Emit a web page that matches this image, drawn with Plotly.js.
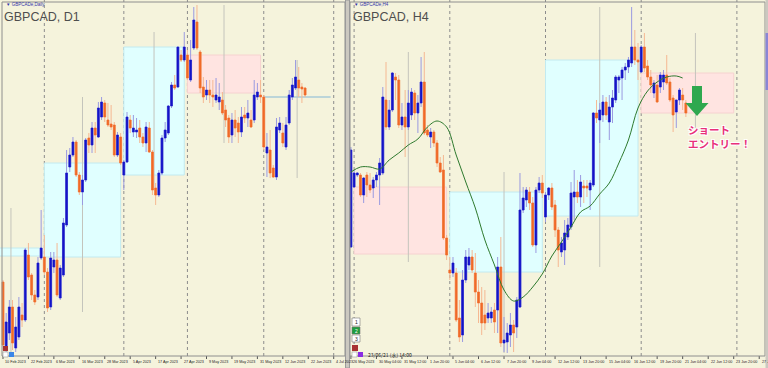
<!DOCTYPE html>
<html><head><meta charset="utf-8">
<script src="https://cdn.plot.ly/plotly-3.0.1.min.js"></script>
<style>html,body{margin:0;padding:0;background:#F5F3DC;}#chart{width:768px;height:368px;}</style>
</head><body><div id="chart"></div>
<script>
// ---------- GBPCAD D1 (left panel) ----------
const d1Open=[1.6436,1.6306,1.6334,1.6386,1.6304,1.6326,1.6370,1.6360,1.6490,1.6450,
1.6410,1.6406,1.6484,1.6486,1.6456,1.6386,1.6466,1.6480,1.6404,1.6450,
1.6550,1.6666,1.6690,1.6716,1.6650,1.6616,1.6640,1.6724,1.6710,1.6744,
1.6726,1.6766,1.6794,1.6760,1.6752,1.6750,1.6690,1.6726,1.6650,1.6676,
1.6760,1.6736,1.6736,1.6744,1.6726,1.6714,1.6744,1.6696,1.6624,1.6610,
1.6654,1.6724,1.6734,1.6788,1.6830,1.6826,1.6890,1.6880,1.6890,1.6840,
1.6904,1.6956,1.6896,1.6826,1.6810,1.6820,1.6810,1.6800,1.6796,1.6800,
1.6780,1.6764,1.6730,1.6760,1.6754,1.6736,1.6770,1.6764,1.6760,1.6760,
1.6806,1.6810,1.6806,1.6694,1.6700,1.6664,1.6646,1.6740,1.6734,1.6706,
1.6754,1.6806,1.6824,1.6840,1.6826,1.6824];
const d1High=[1.6440,1.6374,1.6400,1.6400,1.6366,1.6406,1.6394,1.6504,1.6514,1.6454,
1.6420,1.6486,1.6580,1.6530,1.6464,1.6496,1.6496,1.6514,1.6470,1.6564,
1.6700,1.6704,1.6726,1.6720,1.6656,1.6650,1.6724,1.6734,1.6756,1.6756,
1.6796,1.6806,1.6800,1.6794,1.6790,1.6756,1.6736,1.6734,1.6680,1.6776,
1.6770,1.6770,1.6764,1.6760,1.6734,1.6756,1.6756,1.6700,1.6634,1.6660,
1.6730,1.6756,1.6790,1.6836,1.6850,1.6906,1.6900,1.6936,1.6900,1.6920,
1.6986,1.6990,1.6900,1.6846,1.6840,1.6840,1.6840,1.6844,1.6834,1.6816,
1.6790,1.6770,1.6774,1.6780,1.6766,1.6786,1.6786,1.6800,1.6780,1.6840,
1.6834,1.6840,1.6810,1.6734,1.6740,1.6670,1.6764,1.6766,1.6754,1.6766,
1.6820,1.6844,1.6880,1.6866,1.6834,1.6826];
const d1Low=[1.6300,1.6296,1.6320,1.6300,1.6296,1.6320,1.6346,1.6356,1.6440,1.6400,
1.6390,1.6400,1.6480,1.6450,1.6376,1.6380,1.6454,1.6406,1.6400,1.6446,
1.6546,1.6656,1.6686,1.6646,1.6610,1.6590,1.6636,1.6694,1.6694,1.6694,
1.6724,1.6760,1.6756,1.6746,1.6740,1.6686,1.6686,1.6670,1.6620,1.6674,
1.6734,1.6726,1.6724,1.6714,1.6706,1.6696,1.6694,1.6610,1.6590,1.6606,
1.6650,1.6716,1.6730,1.6784,1.6820,1.6824,1.6876,1.6876,1.6840,1.6836,
1.6900,1.6900,1.6814,1.6794,1.6800,1.6794,1.6786,1.6794,1.6780,1.6770,
1.6746,1.6714,1.6714,1.6726,1.6714,1.6726,1.6754,1.6746,1.6744,1.6754,
1.6800,1.6794,1.6700,1.6646,1.6644,1.6644,1.6640,1.6734,1.6706,1.6700,
1.6750,1.6800,1.6820,1.6806,1.6794,1.6806];
const d1Close=[1.6310,1.6356,1.6386,1.6314,1.6346,1.6386,1.6360,1.6500,1.6446,1.6410,
1.6396,1.6474,1.6504,1.6456,1.6384,1.6484,1.6480,1.6410,1.6464,1.6554,
1.6654,1.6690,1.6716,1.6650,1.6616,1.6640,1.6720,1.6710,1.6744,1.6730,
1.6784,1.6796,1.6766,1.6750,1.6746,1.6690,1.6730,1.6674,1.6676,1.6766,
1.6744,1.6744,1.6740,1.6726,1.6714,1.6746,1.6696,1.6620,1.6610,1.6654,
1.6724,1.6740,1.6788,1.6830,1.6824,1.6906,1.6880,1.6906,1.6844,1.6880,
1.6960,1.6904,1.6824,1.6806,1.6820,1.6810,1.6806,1.6810,1.6806,1.6774,
1.6760,1.6726,1.6760,1.6744,1.6736,1.6766,1.6764,1.6774,1.6746,1.6810,
1.6816,1.6806,1.6706,1.6706,1.6654,1.6646,1.6746,1.6754,1.6714,1.6750,
1.6810,1.6830,1.6846,1.6824,1.6822,1.6810];
// monthly candle overlay (bar indices of first/last day, OHLC)
const monStart=[-7,13,38,58,82];
const monEnd=[12,37,57,81,103];
const monOpen=[1.6488,1.6486,1.6650,1.6890,1.6806];
const monHigh=[1.6584,1.6806,1.6936,1.6990,1.6880];
const monLow=[1.6288,1.6376,1.6620,1.6714,1.6644];
const monClose=[1.6504,1.6674,1.6906,1.6814,1.6806];
const d1Grid=[13,38,58,82,104];
const d1TickIdx=[0,8,16,24,32,40,48,56,64,72,80,88,96,104];
const d1TickText=["10 Feb 2023","22 Feb 2023","6 Mar 2023","16 Mar 2023","28 Mar 2023","5 Apr 2023","17 Apr 2023","27 Apr 2023","9 May 2023","19 May 2023","31 May 2023","12 Jun 2023","22 Jun 2023","4 Jul 2023"];

// ---------- GBPCAD H4 (right panel), first bar = 26 May 20:00 ----------
const h4Open=[1.6703,1.6763,1.6775,1.6775,1.6755,1.6775,1.6765,1.6762,1.6770,1.6775,
1.6777,1.6850,1.6823,1.6840,1.6873,1.6870,1.6825,1.6833,1.6823,1.6835,
1.6857,1.6837,1.6847,1.6868,1.6820,1.6813,1.6818,1.6807,1.6787,1.6780,
1.6712,1.6680,1.6677,1.6677,1.6632,1.6615,1.6670,1.6685,1.6693,1.6677,
1.6658,1.6647,1.6635,1.6632,1.6632,1.6640,1.6640,1.6683,1.6607,1.6608,
1.6615,1.6625,1.6623,1.6643,1.6740,1.6750,1.6758,1.6747,1.6705,1.6760,
1.6767,1.6733,1.6755,1.6762,1.6745,1.6720,1.6698,1.6700,1.6713,1.6723,
1.6753,1.6758,1.6753,1.6764,1.6764,1.6760,1.6765,1.6837,1.6830,1.6835,
1.6848,1.6828,1.6843,1.6850,1.6870,1.6872,1.6880,1.6883,1.6887,1.6903,
1.6890,1.6878,1.6903,1.6884,1.6873,1.6857,1.6865,1.6863,1.6868,1.6875,
1.6868,1.6852,1.6838,1.6850,1.6855,1.6847];
const h4High=[1.6803,1.6780,1.6778,1.6777,1.6773,1.6778,1.6777,1.6773,1.6778,1.6792,
1.6863,1.6888,1.6850,1.6878,1.6877,1.6875,1.6847,1.6860,1.6860,1.6862,
1.6860,1.6855,1.6893,1.6898,1.6825,1.6822,1.6820,1.6810,1.6793,1.6795,
1.6715,1.6693,1.6693,1.6682,1.6650,1.6680,1.6700,1.6702,1.6700,1.6697,
1.6670,1.6663,1.6660,1.6647,1.6643,1.6647,1.6693,1.6713,1.6633,1.6627,
1.6637,1.6630,1.6653,1.6777,1.6763,1.6763,1.6763,1.6753,1.6763,1.6773,
1.6775,1.6758,1.6763,1.6767,1.6750,1.6723,1.6713,1.6730,1.6732,1.6768,
1.6780,1.6770,1.6775,1.6770,1.6770,1.6770,1.6838,1.6850,1.6847,1.6855,
1.6853,1.6855,1.6860,1.6875,1.6875,1.6883,1.6887,1.6893,1.6943,1.6920,
1.6907,1.6905,1.6917,1.6890,1.6880,1.6870,1.6875,1.6878,1.6880,1.6895,
1.6872,1.6855,1.6850,1.6862,1.6862,1.6850];
const h4Low=[1.6702,1.6762,1.6773,1.6753,1.6747,1.6753,1.6757,1.6752,1.6763,1.6745,
1.6775,1.6820,1.6820,1.6838,1.6850,1.6822,1.6820,1.6793,1.6820,1.6830,
1.6830,1.6817,1.6843,1.6815,1.6813,1.6802,1.6803,1.6783,1.6777,1.6710,
1.6690,1.6670,1.6673,1.6628,1.6608,1.6608,1.6667,1.6680,1.6677,1.6643,
1.6627,1.6615,1.6620,1.6627,1.6627,1.6617,1.6617,1.6603,1.6598,1.6597,
1.6603,1.6598,1.6612,1.6642,1.6737,1.6743,1.6740,1.6703,1.6697,1.6757,
1.6752,1.6728,1.6750,1.6740,1.6713,1.6683,1.6693,1.6685,1.6710,1.6720,
1.6730,1.6747,1.6743,1.6747,1.6753,1.6740,1.6763,1.6827,1.6807,1.6828,
1.6830,1.6810,1.6827,1.6847,1.6857,1.6850,1.6870,1.6877,1.6883,1.6885,
1.6870,1.6877,1.6878,1.6870,1.6857,1.6852,1.6847,1.6857,1.6860,1.6865,
1.6848,1.6818,1.6822,1.6845,1.6840,1.6833];
const h4Close=[1.6800,1.6777,1.6777,1.6755,1.6772,1.6765,1.6760,1.6770,1.6775,1.6787,
1.6853,1.6823,1.6840,1.6877,1.6870,1.6825,1.6833,1.6823,1.6847,1.6858,
1.6837,1.6847,1.6868,1.6817,1.6815,1.6818,1.6807,1.6787,1.6778,1.6712,
1.6695,1.6677,1.6687,1.6630,1.6613,1.6670,1.6693,1.6693,1.6680,1.6658,
1.6647,1.6627,1.6627,1.6637,1.6638,1.6628,1.6683,1.6607,1.6610,1.6617,
1.6625,1.6617,1.6650,1.6740,1.6752,1.6760,1.6747,1.6705,1.6760,1.6767,
1.6757,1.6755,1.6762,1.6743,1.6720,1.6700,1.6707,1.6717,1.6725,1.6757,
1.6758,1.6753,1.6768,1.6762,1.6762,1.6767,1.6837,1.6832,1.6840,1.6848,
1.6835,1.6843,1.6852,1.6873,1.6873,1.6880,1.6883,1.6890,1.6903,1.6890,
1.6888,1.6903,1.6882,1.6873,1.6865,1.6867,1.6848,1.6875,1.6875,1.6867,
1.6850,1.6835,1.6850,1.6860,1.6850,1.6837];
// moving average (sampled bar index, value)
const maIdx=[-1,2,5,8,11,14,17,20,23,26,29,32,35,38,41,44,47,50,53,56,59,62,65,68,71,74,77,80,83,86,89,92,95,98,101,103];
const maVal=[1.6778,1.6783,1.6783,1.6781,1.6790,1.6797,1.6805,1.6811,1.6823,1.6829,1.6823,1.6795,1.6768,1.6742,1.6710,1.6685,1.6660,1.6649,1.6653,1.6663,1.6676,1.6694,1.6708,1.6723,1.6738,1.6744,1.6756,1.6767,1.6787,1.6810,1.6842,1.6859,1.6868,1.6873,1.6874,1.6872];
// weekly candle overlay
const wkStart=[0,30,60,90];
const wkEnd=[29,59,89,119];
const wkWickAt=[17,47,77,107];
const wkOpen=[1.6763,1.6678,1.6734,1.6877];
const wkHigh=[1.6898,1.6778,1.6943,1.6917];
const wkLow=[1.6688,1.6597,1.6683,1.6818];
const wkClose=[1.6696,1.6758,1.6890,1.6837];
const h4Grid=[0,30,60,90,120];
const h4TickIdx=[-1,7,15,23,31,39,47,55,63,71,79,87,95,103,111,119,127];
const h4TickText=["26 May 2023","30 May 04:00","31 May 12:00","1 Jun 20:00","5 Jun 04:00","6 Jun 12:00","7 Jun 20:00","9 Jun 04:00","12 Jun 12:00","13 Jun 20:00","15 Jun 04:00","16 Jun 12:00","19 Jun 20:00","21 Jun 04:00","22 Jun 12:00","23 Jun 20:00","27 Jun"];

// ---------- helpers ----------
const W=768, PH=356;
const px=x=>x/W, py=y=>1-y/PH;
const BULL='#1414C8', BEAR='#F06A28', BULLW='#9A9AE0', BEARW='#F5B892', BG='#F5F3DC';

function candles(idx,o,h,l,c,xa,ya){
  const bh=o.map((v,k)=>Math.max(v,c[k])), bl=o.map((v,k)=>Math.min(v,c[k]));
  const common={type:'candlestick',x:idx,xaxis:xa,yaxis:ya,whiskerwidth:0,hoverinfo:'skip',showlegend:false};
  return [
    Object.assign({},common,{open:o,high:h,low:l,close:c,
      increasing:{line:{color:BULLW,width:1},fillcolor:BULLW},
      decreasing:{line:{color:BEARW,width:1},fillcolor:BEARW}}),
    Object.assign({},common,{open:o,high:bh,low:bl,close:c,
      increasing:{line:{color:BULL,width:0.5},fillcolor:BULL},
      decreasing:{line:{color:BEAR,width:0.5},fillcolor:BEAR}})
  ];
}
const d1Idx=d1Open.map((_,k)=>k);
const h4Idx=h4Open.map((_,k)=>k-1);

const traces=[].concat(
  candles(d1Idx,d1Open,d1High,d1Low,d1Close,'x','y'),
  candles(h4Idx,h4Open,h4High,h4Low,h4Close,'x2','y2'),
  [{type:'scatter',mode:'lines',x:maIdx,y:maVal,xaxis:'x2',yaxis:'y2',
    line:{color:'#2E7A2E',width:1,shape:'spline',smoothing:1},hoverinfo:'skip',showlegend:false}]
);

const shapes=[];
function periodShapes(st,en,o,h,l,c,mid,xr,yr){
  for(let k=0;k<st.length;k++){
    const up=c[k]>o[k], dn=c[k]<o[k];
    shapes.push({type:'rect',xref:xr,yref:yr,layer:'below',x0:st[k],x1:en[k],y0:o[k],y1:c[k],
      fillcolor: up?'#E0FFFF':(dn?'#FFE4E1':'rgba(0,0,0,0)'),
      line:{color: up?'#C2EAF0':(dn?'#F6D2D0':'#A9CBD8'),width:1}});
  }
  for(let k=0;k<st.length;k++){
    shapes.push({type:'line',xref:xr,yref:yr,layer:'below',x0:mid[k],x1:mid[k],y0:l[k],y1:h[k],
      line:{color:'#C4C4BC',width:1}});
  }
}
periodShapes(monStart,monEnd,monOpen,monHigh,monLow,monClose,monStart.map((s,k)=>(s+monEnd[k])/2),'x','y');
periodShapes(wkStart,wkEnd,wkOpen,wkHigh,wkLow,wkClose,wkWickAt,'x2','y2');
d1Grid.forEach(g=>shapes.push({type:'line',xref:'x',yref:'paper',layer:'below',x0:g,x1:g,y0:0,y1:1,line:{color:'#8C8C8C',width:1,dash:'dot'}}));
h4Grid.forEach(g=>shapes.push({type:'line',xref:'x2',yref:'paper',layer:'below',x0:g,x1:g,y0:0,y1:1,line:{color:'#8C8C8C',width:1,dash:'dot'}}));
d1TickIdx.forEach(t=>shapes.push({type:'line',xref:'x',yref:'paper',x0:t,x1:t,y0:0,y1:-3/PH,line:{color:'#555',width:1}}));
h4TickIdx.forEach(t=>shapes.push({type:'line',xref:'x2',yref:'paper',x0:t,x1:t,y0:0,y1:-3/PH,line:{color:'#555',width:1}}));
// frames & dividers
const P=(o)=>Object.assign({xref:'paper',yref:'paper'},o);
shapes.push(P({type:'rect',x0:px(2),x1:px(345),y0:py(356),y1:py(2),line:{color:'#8E8E8E',width:1}}));
shapes.push(P({type:'rect',x0:px(350),x1:px(765),y0:py(356),y1:py(2),line:{color:'#8E8E8E',width:1}}));
shapes.push(P({type:'rect',x0:px(345.5),x1:px(349.5),y0:py(368),y1:py(0),fillcolor:'#CBC8C0',line:{color:'#9A9A9A',width:1}}));
shapes.push(P({type:'rect',x0:px(765.5),x1:px(768),y0:py(368),y1:py(0),fillcolor:'#CBC8C0',line:{width:0}}));
shapes.push(P({type:'rect',x0:px(765.5),x1:px(768),y0:py(90),y1:py(33),fillcolor:'#8A86D6',line:{width:0}}));
// green arrow
shapes.push(P({type:'path',path:`M${px(692)},${py(86)} L${px(702)},${py(86)} L${px(702)},${py(103)} L${px(708.5)},${py(103)} L${px(697)},${py(116)} L${px(685.5)},${py(103)} L${px(692)},${py(103)} Z`,fillcolor:'#2FA84F',line:{width:0}}));
// small terminal icons
shapes.push(P({type:'rect',x0:px(3),x1:px(8),y0:py(351),y1:py(346),fillcolor:'#A83232',line:{width:0}}));
shapes.push(P({type:'rect',x0:px(3),x1:px(8),y0:py(357),y1:py(352),fillcolor:'#FFFFFF',line:{color:'#888',width:0.5}}));
shapes.push(P({type:'rect',x0:px(9),x1:px(14),y0:py(357),y1:py(352),fillcolor:'#3A86E8',line:{width:0}}));
shapes.push(P({type:'rect',x0:px(352),x1:px(360),y0:py(326),y1:py(318),fillcolor:'#FFFFFF',line:{color:'#777',width:0.6}}));
shapes.push(P({type:'rect',x0:px(352),x1:px(360),y0:py(334),y1:py(327),fillcolor:'#1E9E3E',line:{color:'#777',width:0.6}}));
shapes.push(P({type:'rect',x0:px(352),x1:px(360),y0:py(342),y1:py(335),fillcolor:'#FFFFFF',line:{color:'#777',width:0.6}}));
shapes.push(P({type:'rect',x0:px(352),x1:px(358),y0:py(351),y1:py(345),fillcolor:'#A83232',line:{width:0}}));
shapes.push(P({type:'rect',x0:px(352),x1:px(357),y0:py(357),y1:py(352),fillcolor:'#FFFFFF',line:{color:'#888',width:0.5}}));
shapes.push(P({type:'rect',x0:px(358),x1:px(363),y0:py(357),y1:py(352),fillcolor:'#8A2BE2',line:{width:0}}));

const ann=[];
const tickFont={family:'Liberation Sans, Arial, sans-serif',size:3.7,color:'#222'};
d1TickIdx.forEach((t,k)=>ann.push({xref:'x',yref:'paper',x:t,y:-6/PH,xanchor:'left',yanchor:'middle',showarrow:false,text:d1TickText[k],font:tickFont,xshift:0.5}));
h4TickIdx.forEach((t,k)=>ann.push({xref:'x2',yref:'paper',x:t,y:-6/PH,xanchor:'left',yanchor:'middle',showarrow:false,text:h4TickText[k],font:tickFont,xshift:0.5}));
const T=(x,y,text,font,extra)=>Object.assign({xref:'paper',yref:'paper',x:px(x),y:py(y),xanchor:'left',yanchor:'middle',showarrow:false,text:text,font:font},extra||{});
const titleFont={family:'Liberation Sans, Arial, sans-serif',size:12.5,color:'#4E4E4E'};
const tinyFont={family:'Liberation Sans, Arial, sans-serif',size:4.5,color:'#3434A8'};
ann.push(T(2,17,'GBPCAD, D1',titleFont));
ann.push(T(351,17,'GBPCAD, H4',titleFont));
ann.push(T(4,5,'▼ GBPCADe,Daily',tinyFont));
ann.push(T(352,5,'▼ GBPCADe,H4',tinyFont));
const jpFont={family:'Noto Sans CJK JP, sans-serif',size:10.5,color:'#E8307A',weight:'bold',
  shadow:'1px 1px 0 #fff, -1px -1px 0 #fff, 1px -1px 0 #fff, -1px 1px 0 #fff'};
ann.push(T(686,136.5,'<b>ショート<br>エントリー！</b>',jpFont,{align:'left'}));
const boxFont={family:'Liberation Sans, Arial, sans-serif',size:5,color:'#222'};
ann.push(T(356,322,'1',boxFont,{xanchor:'center'}));
ann.push(T(356,330.5,'2',Object.assign({},boxFont,{color:'#fff'}),{xanchor:'center'}));
ann.push(T(356,338.5,'3',boxFont,{xanchor:'center'}));
ann.push(T(366,354.5,'23/06/21 (水) 14:00',Object.assign({},boxFont,{family:'Noto Sans CJK JP, sans-serif'})));

const ax={visible:false,showgrid:false,zeroline:false,fixedrange:true};
const layout={
  width:768,height:368,margin:{l:0,r:0,t:0,b:12},
  paper_bgcolor:BG,plot_bgcolor:BG,showlegend:false,
  boxmode:'overlay',boxgap:0.35,boxgroupgap:0.1,
  xaxis:Object.assign({},ax,{domain:[0,345/W],range:[-0.94,107.55],anchor:'y',rangeslider:{visible:false}}),
  yaxis:Object.assign({},ax,{domain:[0,1],range:[1.6288,1.7000],anchor:'x'}),
  xaxis2:Object.assign({},ax,{domain:[350/W,765/W],range:[-1.285,128.81],anchor:'y2',rangeslider:{visible:false}}),
  yaxis2:Object.assign({},ax,{domain:[0,1],range:[1.6594,1.6950],anchor:'x2'}),
  shapes:shapes,annotations:ann
};
Plotly.newPlot('chart',traces,layout,{staticPlot:true,displayModeBar:false});
</script></body></html>
